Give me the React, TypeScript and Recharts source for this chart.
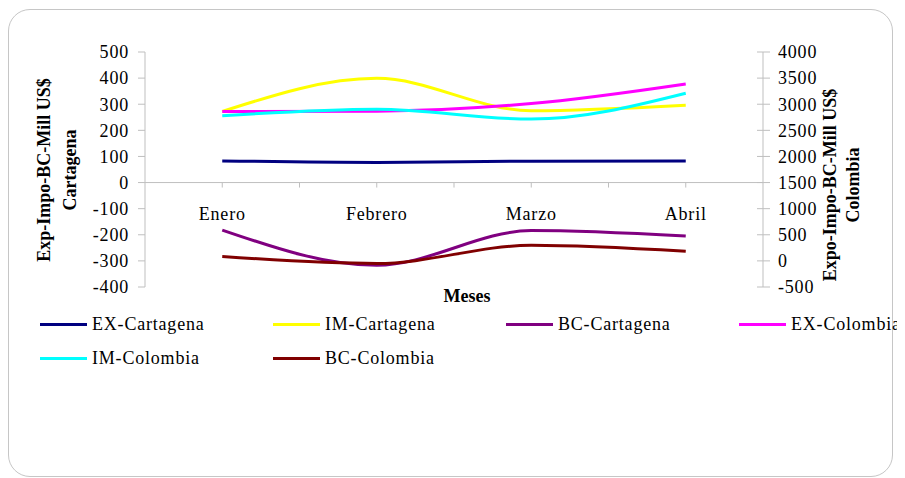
import React from 'react'
import { LineChart, Line, XAxis, YAxis, ReferenceLine } from 'recharts'

// Exportaciones / importaciones / balanza comercial, millones US$
const months = ['Enero', 'Febrero', 'Marzo', 'Abril']
const exCartagena = [83, 77, 82, 83]
const imCartagena = [272, 399, 275, 296]
const bcCartagena = [-182, -317, -184, -205]
const exColombia = [2860, 2867, 3012, 3388]
const imColombia = [2778, 2905, 2715, 3210]
const bcColombia = [83, -50, 299, 184]

const leftTicks = [-400, -300, -200, -100, 0, 100, 200, 300, 400, 500]
const rightTicks = [-500, 0, 500, 1000, 1500, 2000, 2500, 3000, 3500, 4000]

const series = [
  { key: 'exCartagena', name: 'EX-Cartagena', color: '#000080', axis: 'left' },
  { key: 'imCartagena', name: 'IM-Cartagena', color: '#FFFF00', axis: 'left' },
  { key: 'bcCartagena', name: 'BC-Cartagena', color: '#800080', axis: 'left' },
  { key: 'exColombia', name: 'EX-Colombia', color: '#FF00FF', axis: 'right' },
  { key: 'imColombia', name: 'IM-Colombia', color: '#00FFFF', axis: 'right' },
  { key: 'bcColombia', name: 'BC-Colombia', color: '#800000', axis: 'right' },
]

const data = months.map((m, i) => ({
  month: m,
  exCartagena: exCartagena[i],
  imCartagena: imCartagena[i],
  bcCartagena: bcCartagena[i],
  exColombia: exColombia[i],
  imColombia: imColombia[i],
  bcColombia: bcColombia[i],
}))

const W = 889
const H = 470
const FONT = '"Liberation Serif", "DejaVu Serif", serif'
const GRID = '#bfbfbf'
const MARGIN = { top: 44, right: 74, bottom: 190, left: 77 }
const PLOT_W = W - MARGIN.left - MARGIN.right - 120
const PLOT_H = H - MARGIN.top - MARGIN.bottom - 1
const HALF_BAND = PLOT_W / 8
// y of the left axis zero (where the category axis crosses)
const ZERO_Y = MARGIN.top + (500 / 900) * PLOT_H

const LeftTick = (props: any) => {
  const { x, y, payload } = props
  return (
    <g>
      <line x1={x - 7} x2={x} y1={y} y2={y} stroke={GRID} />
      <text x={x - 16} y={y} dy="0.35em" textAnchor="end" fontSize={18} letterSpacing={0.8} fill="#000">
        {payload.value}
      </text>
    </g>
  )
}

const RightTick = (props: any) => {
  const { x, y, payload } = props
  return (
    <g>
      <line x1={x - 6} x2={x + 7} y1={y} y2={y} stroke={GRID} />
      <text x={x + 15} y={y} dy="0.35em" textAnchor="start" fontSize={18} letterSpacing={0.8} fill="#000">
        {payload.value}
      </text>
    </g>
  )
}

const MonthTick = (props: any) => {
  const { x, payload, index } = props
  return (
    <g>
      <line x1={x} x2={x} y1={ZERO_Y} y2={ZERO_Y + 5} stroke={GRID} />
      {index < months.length - 1 && (
        <line x1={x + HALF_BAND} x2={x + HALF_BAND} y1={ZERO_Y} y2={ZERO_Y + 5} stroke={GRID} />
      )}
      <text x={x} y={ZERO_Y + 31} dy="0.35em" textAnchor="middle" fontSize={18} letterSpacing={0.8} fill="#000">
        {payload.value}
      </text>
    </g>
  )
}

const AxisTitle = ({ lines, xs, cy }: { lines: string[]; xs: number[]; cy: number }) => (
  <g>
    {lines.map((t, i) => (
      <text
        key={t}
        x={xs[i]}
        y={cy}
        transform={`rotate(-90, ${xs[i]}, ${cy})`}
        textAnchor="middle"
        dominantBaseline="central"
        fontSize={18}
        fontWeight="bold"
        fill="#000"
      >
        {t}
      </text>
    ))}
  </g>
)

export default function App() {
  return (
    <div style={{ position: 'relative', width: W, height: H, fontFamily: FONT }}>
      <div
        style={{
          position: 'absolute',
          left: 0,
          top: 1,
          width: 885,
          height: 468,
          border: '1.5px solid #c6c6c6',
          borderRadius: 22,
          boxSizing: 'border-box',
        }}
      />
      <div style={{ position: 'absolute', left: 0, top: 0 }}>
        <LineChart width={W} height={H} data={data} margin={MARGIN} style={{ fontFamily: FONT }}>
          <XAxis
            dataKey="month"
            xAxisId={0}
            scale="point"
            padding={{ left: HALF_BAND, right: HALF_BAND }}
            height={1}
            axisLine={false}
            tickLine={false}
            tickSize={0}
            tickMargin={0}
            interval={0}
            tick={<MonthTick />}
            label={{
              content: () => (
                <text x={459} y={288} dy="0.35em" textAnchor="middle" fontSize={18} fontWeight="bold" fill="#000">
                  Meses
                </text>
              ),
            }}
          />
          <YAxis
            yAxisId="left"
            orientation="left"
            width={60}
            domain={[-400, 500]}
            ticks={leftTicks}
            interval={0}
            allowDataOverflow
            axisLine={{ stroke: GRID }}
            tickLine={false}
            tickSize={0}
            tickMargin={0}
            tick={<LeftTick />}
            label={{
              content: () => (
                <AxisTitle lines={['Exp-Impo-BC-Mill US$', 'Cartagena']} xs={[36, 62]} cy={162} />
              ),
            }}
          />
          <YAxis
            yAxisId="right"
            orientation="right"
            width={60}
            domain={[-500, 4000]}
            ticks={rightTicks}
            interval={0}
            allowDataOverflow
            axisLine={{ stroke: GRID }}
            tickLine={false}
            tickSize={0}
            tickMargin={0}
            tick={<RightTick />}
            label={{
              content: () => (
                <AxisTitle lines={['Expo-Impo-BC-Mill US$', 'Colombia']} xs={[822, 845]} cy={177} />
              ),
            }}
          />
          <ReferenceLine yAxisId="left" y={0} stroke={GRID} ifOverflow="extendDomain" />
          {series.map((s) => (
            <Line
              key={s.key}
              yAxisId={s.axis}
              type="monotone"
              dataKey={s.key}
              name={s.name}
              stroke={s.color}
              strokeWidth={3}
              dot={false}
              activeDot={false}
              isAnimationActive={false}
            />
          ))}
        </LineChart>
      </div>
      {/* leyenda */}
      <div
        style={{
          position: 'absolute',
          left: 32,
          top: 304,
          width: 1000,
          display: 'flex',
          flexWrap: 'wrap',
          rowGap: 10,
          fontSize: 18,
          letterSpacing: 0.8,
          whiteSpace: 'nowrap',
        }}
      >
        {series.map((s) => (
          <div key={s.key} style={{ width: 233, display: 'flex', alignItems: 'center', height: 24 }}>
            <div style={{ width: 47, height: 3, background: s.color, marginRight: 5 }} />
            <span>{s.name}</span>
          </div>
        ))}
      </div>
      <div
        style={{
          position: 'absolute',
          left: 352,
          top: 467,
          fontSize: 18,
          fontWeight: 'bold',
          letterSpacing: 0.8,
        }}
      >
        Fuente: DIAN-SIEX
      </div>
    </div>
  )
}
